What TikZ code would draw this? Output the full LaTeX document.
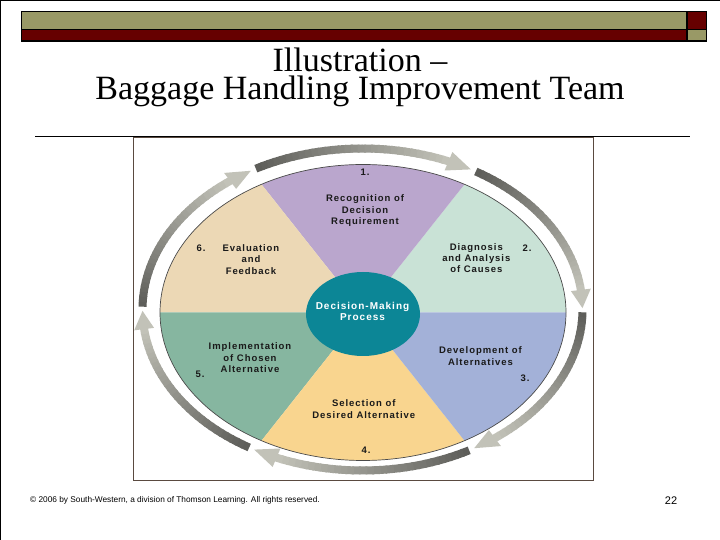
\documentclass[tikz,border=0pt]{standalone}
\usepackage{fontspec}
\setmainfont{Liberation Serif}
\newfontfamily\diagfont[LetterSpace=10]{Liberation Sans}
\newfontfamily\footfont{Liberation Sans}
\usetikzlibrary{calc,shapes.geometric}
\definecolor{barolive}{HTML}{999966}
\definecolor{barred}{HTML}{660000}
\definecolor{framec}{HTML}{5A4A40}
\definecolor{secpurple}{HTML}{BAA6CD}
\definecolor{secmint}{HTML}{C9E2D6}
\definecolor{secblue}{HTML}{A3B1D8}
\definecolor{secorange}{HTML}{F9D58F}
\definecolor{secgreen}{HTML}{86B6A0}
\definecolor{secbeige}{HTML}{ECD8B5}
\definecolor{coreteal}{HTML}{0C8696}
\definecolor{lbltext}{HTML}{1A1A1A}
\definecolor{arrdark}{HTML}{5E5E5A}
\definecolor{arrlight}{HTML}{C2C2B8}
\definecolor{outlinec}{HTML}{4A4A4A}
\tikzset{
  lbl/.style={font=\diagfont\bfseries\fontsize{9.5}{11.3}\selectfont, align=center, text=lbltext, inner sep=0pt},
  num/.style={font=\diagfont\bfseries\fontsize{9.5}{11.3}\selectfont, text=lbltext, inner sep=0pt},
  titletext/.style={font=\fontsize{34}{28}\selectfont, align=center, inner sep=0pt},
  bar/.style={draw=black, line width=1.3pt},
}
\begin{document}
\begin{tikzpicture}[x=1pt,y=1pt]
\useasboundingbox (0,0) rectangle (720,540);
\fill[white] (0,0) rectangle (720,540);
\draw[black, line width=1pt] (0,0) -- (0,539.5) -- (720,539.5);
% top bar
\filldraw[bar, fill=barolive] (21.5,528.5) rectangle (687,510.5);
\filldraw[bar, fill=barred] (21.5,510.5) rectangle (687,499);
\filldraw[bar, fill=barred] (687,528.5) rectangle (706.5,510.5);
\filldraw[bar, fill=barolive] (687,510.5) rectangle (706.5,499);
% title
\node[titletext] (title) at (360,463) {Illustration --\\Baggage Handling Improvement Team};
% picture frame and rule
\draw[framec, line width=0.8pt] (133,403) rectangle (593,60);
\draw[black, line width=1.5pt] (35,403.5) -- (690,403.5);
% sectors
\coordinate (C) at (363,227.5);
\fill[secmint]   (C) -- ++(0:203 and 148)    arc[start angle=0,   end angle=60,  x radius=203, y radius=148] -- cycle;
\fill[secpurple] (C) -- ++(60:203 and 148)   arc[start angle=60,  end angle=120, x radius=203, y radius=148] -- cycle;
\fill[secbeige]  (C) -- ++(120:203 and 148)  arc[start angle=120, end angle=180, x radius=203, y radius=148] -- cycle;
\fill[secgreen]  (C) -- ++(180:203 and 148)  arc[start angle=180, end angle=240, x radius=203, y radius=148] -- cycle;
\fill[secorange] (C) -- ++(240:203 and 148)  arc[start angle=240, end angle=300, x radius=203, y radius=148] -- cycle;
\fill[secblue]   (C) -- ++(300:203 and 148)  arc[start angle=300, end angle=360, x radius=203, y radius=148] -- cycle;
\draw[outlinec, line width=0.7pt] (C) ellipse [x radius=203, y radius=148];
% ring arrows
\coordinate (R) at (362.5,230.5);
\foreach \th in {120,60,0,-60,-120,-180}{
  \foreach \i in {0,...,29}{
    \pgfmathsetmacro\a{\th-1-\i*52/30}
    \pgfmathsetmacro\b{\a-52/30-0.5}
    \pgfmathtruncatemacro\m{100*\i/29}
    \draw[line width=8pt, draw=arrlight!\m!arrdark] ($(R)+(\a:220 and 161)$) arc[start angle=\a, end angle=\b, x radius=220, y radius=161];
  }
  \fill[arrlight] ($(R)+(\th-53:230 and 171)$) -- ($(R)+(\th-59.5:220 and 161)$) -- ($(R)+(\th-53:210 and 151)$) -- cycle;
}
% center
\node[ellipse, fill=coreteal, minimum width=114pt, minimum height=84pt, inner sep=0pt,
      font=\diagfont\bfseries\fontsize{10}{11.5}\selectfont, text=white, align=center] (core) at (363,226) {};
\node[font=\diagfont\bfseries\fontsize{10}{11.5}\selectfont, text=white, align=center, inner sep=0pt] (coretext) at (362.5,228.8) {Decision-Making\\Process};
% labels
\node[num] (n1) at (365,368) {1.};
\node[lbl] (rec) at (365,329.3) {Recognition of\\Decision\\Requirement};
\node[num] (n2) at (527,292) {2.};
\node[lbl] (diag) at (476.3,282) {Diagnosis\\and Analysis\\of Causes};
\node[lbl] (dev) at (480.5,183.8) {Development of\\Alternatives};
\node[num] (n3) at (525,162) {3.};
\node[lbl] (sel) at (363.8,130.8) {Selection of\\Desired Alternative};
\node[num] (n4) at (366,89.5) {4.};
\node[lbl] (impl) at (250,182.2) {Implementation\\of Chosen\\Alternative};
\node[num] (n5) at (200,166) {5.};
\node[num] (n6) at (201,292) {6.};
\node[lbl] (eval) at (251,280.5) {Evaluation\\and\\Feedback};
% footer
\node[anchor=base west, inner sep=0pt, font=\footfont\fontsize{8.3}{10}\selectfont] (copy) at (30,37) {© 2006 by South-Western, a division of Thomson Learning. All rights reserved.};
\node[anchor=base, inner sep=0pt, font=\footfont\fontsize{11}{13}\selectfont] (pg) at (671,35) {22};
\end{tikzpicture}
\end{document}
